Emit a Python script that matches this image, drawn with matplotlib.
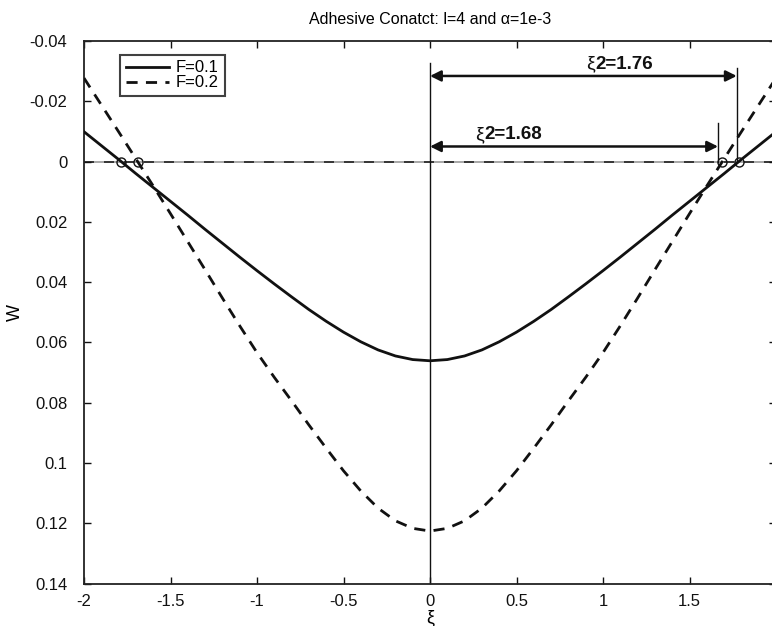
import matplotlib
matplotlib.use("Agg")
import matplotlib.pyplot as plt

plt.rcParams['font.family'] = ['Liberation Sans', 'DejaVu Sans']
plt.rcParams['axes.unicode_minus'] = False

# data
xi = [-2.0, -1.9, -1.8, -1.7, -1.6, -1.5, -1.4, -1.3, -1.2, -1.1, -1.0,
      -0.9, -0.8, -0.7, -0.6, -0.5, -0.4, -0.3, -0.2, -0.1, 0.0,
      0.1, 0.2, 0.3, 0.4, 0.5, 0.6, 0.7, 0.8, 0.9, 1.0,
      1.1, 1.2, 1.3, 1.4, 1.5, 1.6, 1.7, 1.8, 1.9, 2.0]
w_f01 = [-0.0099, -0.0053, -0.0007, 0.0040, 0.0086, 0.0132, 0.0178, 0.0225, 0.0271, 0.0317, 0.0362,
         0.0406, 0.0449, 0.0491, 0.0530, 0.0566, 0.0598, 0.0625, 0.0645, 0.0657, 0.0661,
         0.0657, 0.0645, 0.0625, 0.0598, 0.0566, 0.0530, 0.0491, 0.0449, 0.0406, 0.0362,
         0.0317, 0.0271, 0.0225, 0.0178, 0.0132, 0.0086, 0.0040, -0.0007, -0.0053, -0.0099]
w_f02 = [-0.0277, -0.0188, -0.0099, -0.0009, 0.0081, 0.0173, 0.0266, 0.0359, 0.0453, 0.0545, 0.0634,
         0.0716, 0.0794, 0.0874, 0.0951, 0.1026, 0.1093, 0.1150, 0.1192, 0.1217, 0.1226,
         0.1217, 0.1192, 0.1150, 0.1093, 0.1026, 0.0951, 0.0874, 0.0794, 0.0716, 0.0634,
         0.0545, 0.0453, 0.0359, 0.0266, 0.0173, 0.0081, -0.0009, -0.0099, -0.0188, -0.0277]
contact_x = [-1.785, -1.69, 1.69, 1.785]
contact_w = [0, 0, 0, 0]
xticks = [-2, -1.5, -1, -0.5, 0, 0.5, 1, 1.5, 2]
xtick_labels = ['-2', '-1.5', '-1', '-0.5', '0', '0.5', '1', '1.5', '2']
yticks = [-0.04, -0.02, 0, 0.02, 0.04, 0.06, 0.08, 0.1, 0.12, 0.14]
ytick_labels = ['-0.04', '-0.02', '0', '0.02', '0.04', '0.06', '0.08', '0.1', '0.12', '0.14']
xi2_small = 1.665
xi2_large = 1.773

fig = plt.figure(figsize=(7.72, 6.26), dpi=100)
ax = fig.add_axes([84/772, (626-583.5)/626, 692/772, 542.5/626])

# zero line (grey with dark dashes)
ax.plot([-2, 2], [0, 0], color='#999999', lw=1.2, zorder=1)
ax.plot([-2, 2], [0, 0], color='#222222', lw=1.2, dashes=(6, 6), zorder=1.1)

ax.plot(xi, w_f01, color='#111111', lw=2.0, label='F=0.1', zorder=3)
ax.plot(xi, w_f02, color='#111111', lw=2.0, dashes=(4, 3), label='F=0.2', zorder=3)

ax.plot(contact_x, contact_w, 'o', mfc='none', mec='#111111', ms=6.5, mew=1.0, zorder=4)

# vertical reference lines
ax.plot([0, 0], [-0.0328, 0.14], color='#111111', lw=1.0, zorder=2)
ax.plot([xi2_large, xi2_large], [-0.0312, 0], color='#111111', lw=1.0, zorder=2)
ax.plot([xi2_small, xi2_small], [-0.0127, 0], color='#111111', lw=1.0, zorder=2)

arrow_kw = dict(arrowstyle='<|-|>', color='#111111', lw=1.8,
                mutation_scale=16, shrinkA=0, shrinkB=0)
ax.annotate('', xy=(xi2_large, -0.0284), xytext=(0, -0.0284), arrowprops=arrow_kw)
ax.annotate('', xy=(xi2_small, -0.0050), xytext=(0, -0.0050), arrowprops=arrow_kw)

ax.text(0.955, -0.0323, 'ξ', fontsize=14, ha='right', va='center', color='#111111')
ax.text(0.955, -0.0323, '2=1.76', fontsize=13.5, fontweight='bold', ha='left', va='center', color='#111111')
ax.text(0.313, -0.0089, 'ξ', fontsize=14, ha='right', va='center', color='#111111')
ax.text(0.313, -0.0089, '2=1.68', fontsize=13.5, fontweight='bold', ha='left', va='center', color='#111111')

ax.set_xlim(-2, 2)
ax.set_ylim(0.14, -0.04)
ax.set_xticks(xticks)
ax.set_xticklabels(xtick_labels)
ax.set_yticks(yticks)
ax.set_yticklabels(ytick_labels)
ax.tick_params(direction='in', length=5, width=1, top=True, right=True,
               labelsize=12, colors='#111111')
ax.tick_params(axis='x', pad=7.5)
ax.tick_params(axis='y', pad=12)
for s in ax.spines.values():
    s.set_linewidth(1.3)
    s.set_color('#222222')

ax.set_xlabel('ξ', fontsize=13, labelpad=0)
ax.set_ylabel('W', fontsize=13, labelpad=4)
ax.set_title('Adhesive Conatct: l=4 and α=1e-3', fontsize=11.5, pad=12)

leg = ax.legend(loc='upper left', bbox_to_anchor=(0.052, 0.975), fontsize=12,
                frameon=True, fancybox=False, handlelength=2.6, handletextpad=0.4,
                borderpad=0.35, labelspacing=0.0, borderaxespad=0)
leg.get_frame().set_edgecolor('#111111')
leg.get_frame().set_linewidth(1.5)

fig.savefig('out.png', dpi=100)
